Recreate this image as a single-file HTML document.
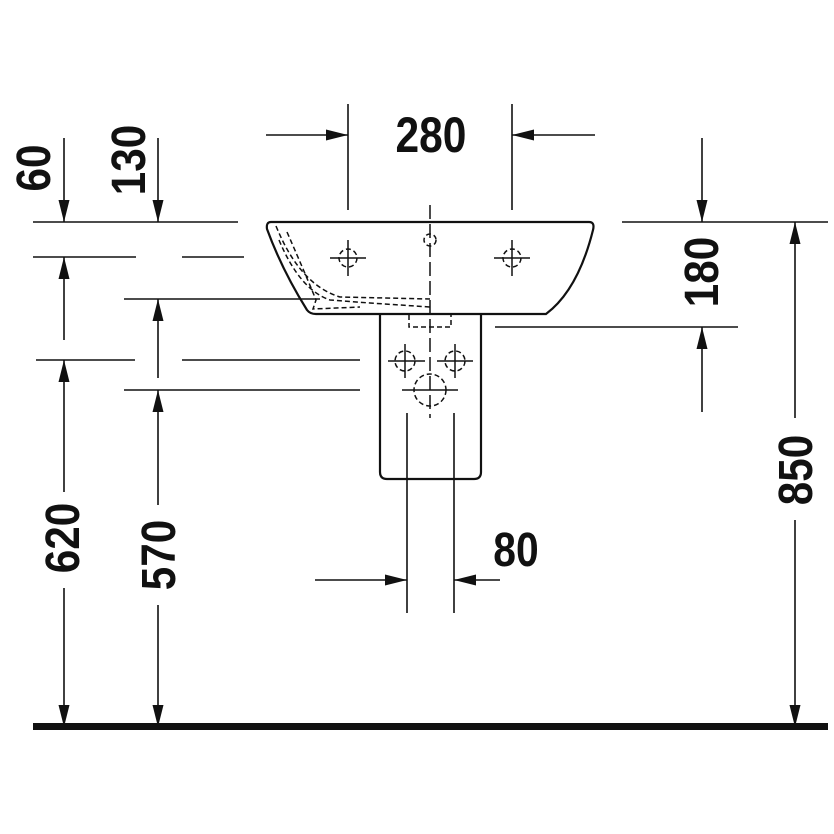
<!DOCTYPE html>
<html><head><meta charset="utf-8"><style>
html,body{margin:0;padding:0;background:#fff;}
svg{display:block}
text{font-family:"Liberation Sans",sans-serif;font-weight:bold;fill:#111;}
</style></head><body>
<svg width="834" height="834" viewBox="0 0 834 834" xmlns="http://www.w3.org/2000/svg">
<defs>
<marker id="a" viewBox="0 0 10 10" preserveAspectRatio="none" refX="10" refY="5" markerWidth="22" markerHeight="11" markerUnits="userSpaceOnUse" orient="auto"><path d="M0,0 L10,5 L0,10z" fill="#111"/></marker>
</defs>
<g stroke="#111" stroke-width="1.6" fill="none">
<line x1="33" y1="222" x2="238" y2="222"/>
<line x1="33" y1="257" x2="136" y2="257"/>
<line x1="182" y1="257" x2="244" y2="257"/>
<line x1="124" y1="299" x2="320" y2="299"/>
<line x1="36" y1="360" x2="135" y2="360"/>
<line x1="182" y1="360" x2="360" y2="360"/>
<line x1="124" y1="390" x2="360" y2="390"/>
<line x1="622" y1="222" x2="828" y2="222"/>
<line x1="495" y1="327" x2="738" y2="327"/>
<line x1="64" y1="138" x2="64" y2="222" marker-end="url(#a)"/>
<line x1="158" y1="138" x2="158" y2="222" marker-end="url(#a)"/>
<line x1="64" y1="340" x2="64" y2="257" marker-end="url(#a)"/>
<line x1="158" y1="378" x2="158" y2="299" marker-end="url(#a)"/>
<line x1="64" y1="492" x2="64" y2="360" marker-end="url(#a)"/>
<line x1="64" y1="588" x2="64" y2="727" marker-end="url(#a)"/>
<line x1="158" y1="505" x2="158" y2="390" marker-end="url(#a)"/>
<line x1="158" y1="605" x2="158" y2="727" marker-end="url(#a)"/>
<line x1="702" y1="138" x2="702" y2="222" marker-end="url(#a)"/>
<line x1="702" y1="412" x2="702" y2="327" marker-end="url(#a)"/>
<line x1="795" y1="418" x2="795" y2="222" marker-end="url(#a)"/>
<line x1="795" y1="520" x2="795" y2="727" marker-end="url(#a)"/>
<line x1="348" y1="104" x2="348" y2="210"/>
<line x1="512" y1="104" x2="512" y2="210"/>
<line x1="266" y1="135" x2="348" y2="135" marker-end="url(#a)"/>
<line x1="595" y1="135" x2="512" y2="135" marker-end="url(#a)"/>
<line x1="407" y1="413" x2="407" y2="613"/>
<line x1="454" y1="413" x2="454" y2="613"/>
<line x1="315" y1="580" x2="407" y2="580" marker-end="url(#a)"/>
<line x1="500" y1="580" x2="454" y2="580" marker-end="url(#a)"/>
</g>
<rect x="33" y="723" width="795" height="7" fill="#111"/>
<g stroke="#111" stroke-width="2.2" fill="none">
<path d="M271,222 L589,222 Q595,222 593,230 Q578,290 546,314 L316,314 Q310,314 307,310 Q282,270 267,229 Q266,222 271,222 Z"/>
<path d="M380,314 L380,472 Q380,479 387,479 L474,479 Q481,479 481,472 L481,314"/>
</g>
<g stroke="#111" stroke-width="1.5" fill="none" stroke-dasharray="5,3">
<path d="M276,226 Q300,285 340,297 L430,299"/>
<path d="M279,240 Q300,290 330,300 L370,303 L430,307"/>
<path d="M287,232 Q308,280 316,300 L313,309 L360,307"/>
<path d="M409,315 L409,327 L451,327 L451,315"/>
<circle cx="430" cy="240" r="6"/>
<circle cx="348" cy="258" r="9"/>
<circle cx="512" cy="258" r="9"/>
<circle cx="405" cy="361" r="10"/>
<circle cx="455" cy="361" r="10"/>
<circle cx="430" cy="390" r="16"/>
<line x1="430" y1="205" x2="430" y2="418" stroke-dasharray="14,5"/>
</g>
<g stroke="#111" stroke-width="1.5">
<line x1="330" y1="258" x2="366" y2="258"/><line x1="348" y1="240" x2="348" y2="276"/>
<line x1="494" y1="258" x2="530" y2="258"/><line x1="512" y1="240" x2="512" y2="276"/>
<line x1="388" y1="361" x2="425" y2="361"/><line x1="405" y1="344" x2="405" y2="378"/>
<line x1="437" y1="361" x2="473" y2="361"/><line x1="455" y1="344" x2="455" y2="378"/>
<line x1="402" y1="390" x2="458" y2="390"/>
</g>
<text x="431" y="152" font-size="50" text-anchor="middle" transform="translate(431 0) scale(0.85 1) translate(-431 0)">280</text>
<text x="516" y="566" font-size="48" text-anchor="middle" transform="translate(516 0) scale(0.85 1) translate(-516 0)">80</text>
<g font-size="48" text-anchor="middle">
<text transform="translate(50 168) rotate(-90) scale(0.88 1)">60</text>
<text transform="translate(145 160) rotate(-90) scale(0.88 1)">130</text>
<text transform="translate(718 272) rotate(-90) scale(0.88 1)">180</text>
<text transform="translate(79 538) rotate(-90) scale(0.88 1)">620</text>
<text transform="translate(175 555) rotate(-90) scale(0.88 1)">570</text>
<text transform="translate(812 470) rotate(-90) scale(0.88 1)">850</text>
</g>
</svg>
</body></html>
